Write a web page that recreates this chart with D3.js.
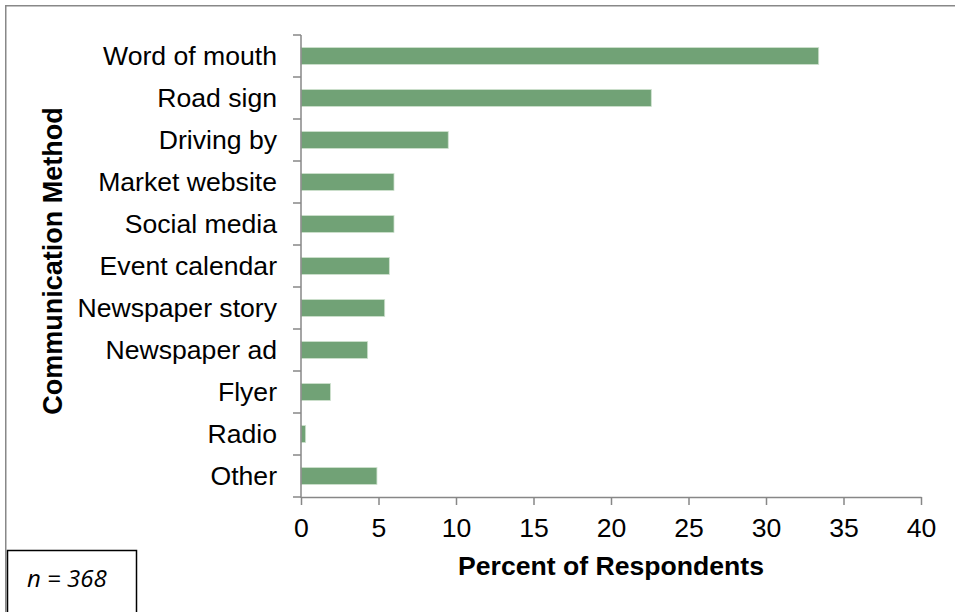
<!DOCTYPE html>
<html>
<head>
<meta charset="utf-8">
<script src="https://cdn.jsdelivr.net/npm/d3@7"></script>
<style>
  html, body { margin: 0; padding: 0; background: #fff; }
  svg { display: block; }
</style>
</head>
<body>
<svg id="chart" width="955" height="612"></svg>
<script>
const categories = ["Word of mouth", "Road sign", "Driving by", "Market website", "Social media",
  "Event calendar", "Newspaper story", "Newspaper ad", "Flyer", "Radio", "Other"];
const values = [33.4, 22.6, 9.5, 6.0, 6.0, 5.7, 5.4, 4.3, 1.9, 0.3, 4.9];
const xTicks = [0, 5, 10, 15, 20, 25, 30, 35, 40];
const xTitle = "Percent of Respondents";
const yTitle = "Communication Method";
const noteText = "n = 368";

(function () {
const svg = d3.select("#chart");
const pLeft = 301, pRight = 921, pTop = 35, pBottom = 497;
const axisColor = "#878787";
const font = "'Liberation Sans', Arial, sans-serif";

// outer frame (only top/left visible; extends past the canvas)
svg.append("rect").attr("x", 5.75).attr("y", 5.75).attr("width", 1000).attr("height", 1000)
  .attr("fill", "none").attr("stroke", "#888").attr("stroke-width", 1.5);

const x = d3.scaleLinear().domain([0, 40]).range([pLeft, pRight]);
const y = d3.scaleBand().domain(categories).range([pTop, pBottom]).paddingInner(0.595).paddingOuter(0.2975);

// bars
svg.append("g").selectAll("rect").data(categories).join("rect")
  .attr("x", x(0))
  .attr("y", d => y(d))
  .attr("width", (d, i) => x(values[i]) - x(0))
  .attr("height", y.bandwidth())
  .attr("fill", "#71a276")
  .attr("stroke", "#cfe2cf")
  .attr("stroke-width", 0.8);

// y axis line and ticks at band boundaries
const step = y.step();
const boundaries = d3.range(categories.length + 1).map(i => pTop + i * step);
svg.append("g").selectAll("line").data(boundaries).join("line")
  .attr("x1", pLeft - 8).attr("x2", pLeft)
  .attr("y1", d => d).attr("y2", d => d)
  .attr("stroke", axisColor).attr("stroke-width", 1.5);
svg.append("line").attr("x1", pLeft).attr("x2", pLeft).attr("y1", pTop).attr("y2", pBottom + 0.75)
  .attr("stroke", axisColor).attr("stroke-width", 1.5);

// category labels
svg.append("g").selectAll("text").data(categories).join("text")
  .attr("x", 277)
  .attr("y", d => y(d) + y.bandwidth() / 2)
  .attr("dy", "0.35em")
  .attr("text-anchor", "end")
  .attr("font-family", font).attr("font-size", 26.6).attr("fill", "#000")
  .text(d => d);

// x axis
const xAxis = d3.axisBottom(x).tickValues(xTicks).tickSize(8).tickSizeOuter(0).tickFormat(d3.format("d"));
const gx = svg.append("g").attr("transform", `translate(0,${pBottom})`).call(xAxis);
gx.attr("font-family", font);
gx.select(".domain").attr("stroke", axisColor).attr("stroke-width", 1.5);
gx.selectAll(".tick line").attr("stroke", axisColor).attr("stroke-width", 1.5);
gx.selectAll(".tick text").attr("font-family", font).attr("font-size", 26.6).attr("fill", "#000")
  .attr("y", 0).attr("dy", 0).attr("transform", "translate(0,40)");

// axis titles
svg.append("text").attr("x", (pLeft + pRight) / 2).attr("y", 575)
  .attr("text-anchor", "middle").attr("font-family", font).attr("font-weight", "bold")
  .attr("font-size", 26.6).text(xTitle);
svg.append("text").attr("transform", "translate(62,261) rotate(-90)")
  .attr("text-anchor", "middle").attr("font-family", font).attr("font-weight", "bold")
  .attr("font-size", 27).text(yTitle);

// note box
svg.append("rect").attr("x", 7.5).attr("y", 550.5).attr("width", 129).attr("height", 80)
  .attr("fill", "#fff").attr("stroke", "#000").attr("stroke-width", 1.5);
svg.append("text").attr("x", 27).attr("y", 587)
  .attr("font-family", "'Open Sans', sans-serif").attr("font-style", "italic")
  .attr("font-size", 24).attr("fill", "#000").text(noteText);
})();
</script>
</body>
</html>
